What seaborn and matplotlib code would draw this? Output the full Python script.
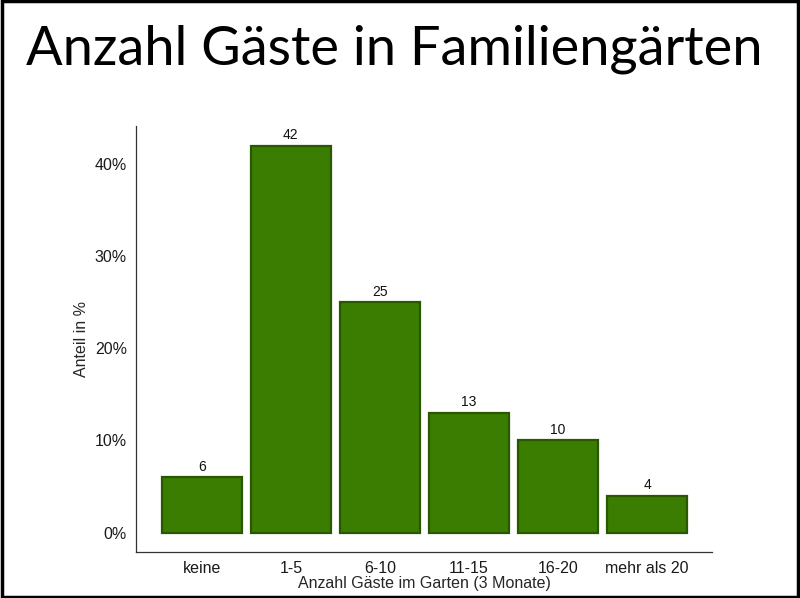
import matplotlib
matplotlib.use("Agg")
import matplotlib.pyplot as plt
import matplotlib.patches as mpatches
import seaborn as sns
import pandas as pd

# data
kategorien = ["keine", "1-5", "6-10", "11-15", "16-20", "mehr als 20"]
anteile = [6, 42, 25, 13, 10, 4]

df = pd.DataFrame({"kat": kategorien, "anteil": anteile})

sns.set_style("white")
plt.rcParams["font.family"] = ["Liberation Sans", "DejaVu Sans"]

fig = plt.figure(figsize=(8, 5.98), dpi=100)
ax = fig.add_axes([0.17, 0.077, 0.72, 0.712])

sns.barplot(data=df, x="kat", y="anteil", color="#3a7d00", saturation=1,
            width=0.9, edgecolor="#295800", linewidth=1.6, ax=ax)

for i, v in enumerate(anteile):
    ax.text(i, v + 0.4, str(v), ha="center", va="bottom", fontsize=10, color="#111111")

ax.set_xlim(-0.74, 5.73)
ax.set_ylim(-2.1, 44.1)
ax.set_yticks([0, 10, 20, 30, 40])
ax.set_yticklabels(["0%", "10%", "20%", "30%", "40%"])
ax.tick_params(axis="both", labelsize=11.5, colors="#333333", length=3, width=0.8)
ax.tick_params(axis="both", labelcolor="#1a1a1a")
ax.set_xlabel("Anzahl Gäste im Garten (3 Monate)", fontsize=11.5, labelpad=0)
ax.set_ylabel("Anteil in %", fontsize=11.5, labelpad=4)

for s in ["top", "right"]:
    ax.spines[s].set_visible(False)
for s in ["left", "bottom"]:
    ax.spines[s].set_color("#333333")
    ax.spines[s].set_linewidth(0.9)

fig.text(0.493, 0.918, "Anzahl Gäste in Familiengärten", ha="center", va="center",
         fontsize=39, family=["Lato", "DejaVu Sans"], color="black")

# black frame around the slide
fig.patches.append(mpatches.Rectangle((0.002, 0.002), 0.996, 0.996, transform=fig.transFigure,
                                      fill=False, edgecolor="black", linewidth=2.5))

fig.savefig("out.png", dpi=100)
